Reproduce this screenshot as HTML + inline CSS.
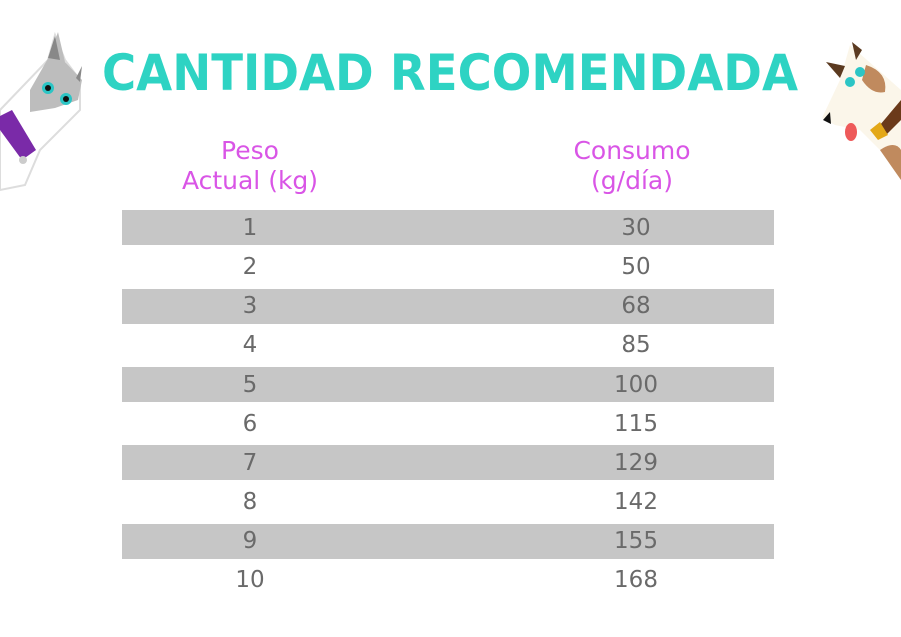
<!DOCTYPE html>
<html><head><style>
body{margin:0;width:901px;height:637px;background:#fff;overflow:hidden;position:relative;font-family:"DejaVu Sans","Liberation Sans",sans-serif}
.bar{position:absolute;left:122px;width:652px;height:35px;background:#c6c6c6}
.t{position:absolute;width:200px;text-align:center;color:#6a6a6a;font-size:23px;line-height:24px}
.h{position:absolute;width:260px;text-align:center;color:#d955e6;font-size:25px;line-height:30px}
</style></head><body>
<svg width="901" height="637" style="position:absolute;left:0;top:0">
<text x="102" y="90" textLength="696" lengthAdjust="spacingAndGlyphs" font-family="DejaVu Sans" font-weight="bold" font-size="50" fill="#2ed3c3">CANTIDAD RECOMENDADA</text>
<!-- cat -->
<g>
<polygon points="0,110 48,60 55,35 65,60 80,80 80,110 40,150 25,185 0,190" fill="#fff" stroke="#ddd" stroke-width="2"/>
<polygon points="30,90 50,55 58,32 65,62 82,80 78,100 55,108 30,112" fill="#bdbdbd"/>
<polygon points="48,58 55,36 60,60" fill="#888"/>
<polygon points="76,78 82,66 80,82" fill="#888"/>
<circle cx="48" cy="88" r="6" fill="#2cc5c5"/><circle cx="48" cy="88" r="3" fill="#111"/>
<circle cx="66" cy="99" r="6" fill="#2cc5c5"/><circle cx="66" cy="99" r="3" fill="#111"/>
<polygon points="0,116 12,110 36,150 22,160 0,130" fill="#7a2aa8"/>
<circle cx="23" cy="160" r="4" fill="#ccc"/>
</g>
<!-- dog -->
<g>
<polygon points="850,45 901,90 901,180 880,150 860,130 835,125 822,118 840,80" fill="#fbf6ea"/>
<polygon points="852,42 862,50 856,60" fill="#5b3a20"/>
<polygon points="826,62 845,66 840,78" fill="#5b3a20"/>
<path d="M866 65 Q888 72 885 92 Q872 95 862 80Z" fill="#c08a5e"/>
<polygon points="880,125 901,100 901,120 886,135" fill="#6b3a1a"/>
<polygon points="870,130 880,122 888,135 878,140" fill="#e3a818"/>
<ellipse cx="851" cy="132" rx="6" ry="9" fill="#ee5a5a"/>
<polygon points="823,120 830,112 831,124" fill="#111"/>
<circle cx="860" cy="72" r="5" fill="#2cc5c5"/><circle cx="850" cy="82" r="5" fill="#2cc5c5"/>
<path d="M880 150 Q895 140 901 150 L901 180Z" fill="#c08a5e"/>
</g>
</svg>
<div class="h" style="left:120px;top:136px">Peso<br>Actual (kg)</div>
<div class="h" style="left:502px;top:136px">Consumo<br>(g/día)</div>
<div class="bar" style="top:210px"></div>
<div class="bar" style="top:289px"></div>
<div class="bar" style="top:367px"></div>
<div class="bar" style="top:445px"></div>
<div class="bar" style="top:524px"></div>
<div class="t" style="left:150px;top:216px">1</div><div class="t" style="left:536px;top:216px">30</div>
<div class="t" style="left:150px;top:255px">2</div><div class="t" style="left:536px;top:255px">50</div>
<div class="t" style="left:150px;top:294px">3</div><div class="t" style="left:536px;top:294px">68</div>
<div class="t" style="left:150px;top:333px">4</div><div class="t" style="left:536px;top:333px">85</div>
<div class="t" style="left:150px;top:373px">5</div><div class="t" style="left:536px;top:373px">100</div>
<div class="t" style="left:150px;top:412px">6</div><div class="t" style="left:536px;top:412px">115</div>
<div class="t" style="left:150px;top:451px">7</div><div class="t" style="left:536px;top:451px">129</div>
<div class="t" style="left:150px;top:490px">8</div><div class="t" style="left:536px;top:490px">142</div>
<div class="t" style="left:150px;top:529px">9</div><div class="t" style="left:536px;top:529px">155</div>
<div class="t" style="left:150px;top:568px">10</div><div class="t" style="left:536px;top:568px">168</div>
</body></html>
